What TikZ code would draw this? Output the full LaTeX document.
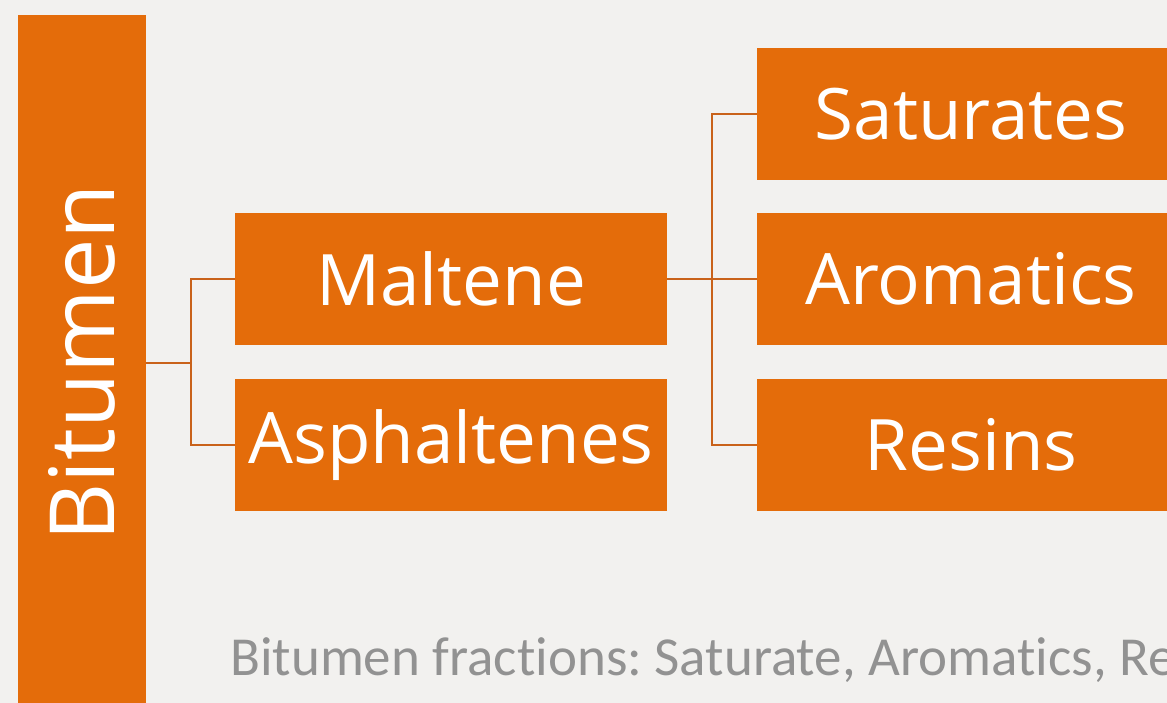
\documentclass[tikz,border=0pt]{standalone}
\usepackage{fontspec}
\usepackage{graphicx}
\setmainfont{Open Sans}
\newfontfamily\capfont[Ligatures=NoCommon]{Carlito}
\usetikzlibrary{calc}
\definecolor{fracorange}{HTML}{E46C0A}
\definecolor{linkorange}{HTML}{C9621A}
\definecolor{paper}{HTML}{F2F1EF}
\definecolor{captiongray}{HTML}{929292}
\frenchspacing

\begin{document}
\begin{tikzpicture}[x=1pt, y=-1pt,
    fraction/.style={fill=fracorange, text=white, inner sep=0pt,
      minimum width=432pt, minimum height=132pt,
      font=\fontsize{71}{80}\selectfont},
    link/.style={draw=linkorange, line width=2.2pt}]

    \useasboundingbox (0,0) rectangle (1167,703);
    \clip (0,0) rectangle (1167,703);
    \fill[paper] (0,0) rectangle (1167,703);

    \node[fill=fracorange, text=white, inner sep=0pt, minimum width=128pt, minimum height=696pt,
      font=\fontsize{90}{100}\selectfont] (bit) at (81.5,363) {\rotatebox{90}{Bitumen}};

    \node[fraction] (mal) at (451,279) {Maltene};
    \node[fraction] (asp) at (451,445) {Asphaltenes};

    \node[fraction, minimum width=428pt] (sat) at (971,114) {Saturates};
    \node[fraction, minimum width=428pt] (aro) at (971,279) {Aromatics};
    \node[fraction, minimum width=428pt] (res) at (971,445) {Resins};

    \coordinate (j1) at ($(bit.east)+(45,0)$);
    \draw[link] (bit.east) -- (j1);
    \draw[link] (mal.west) -| (j1) |- (asp.west);

    \coordinate (j2) at ($(mal.east)+(45,0)$);
    \draw[link] (mal.east) -- (aro.west);
    \draw[link] (sat.west) -| (j2) |- (res.west);

    \node[anchor=base west, text=captiongray, inner sep=0pt,
      font=\capfont\fontsize{55}{60}\selectfont] (cap) at (230,675) {Bitumen fractions: Saturate, Aromatics, Re};

\end{tikzpicture}
\end{document}
